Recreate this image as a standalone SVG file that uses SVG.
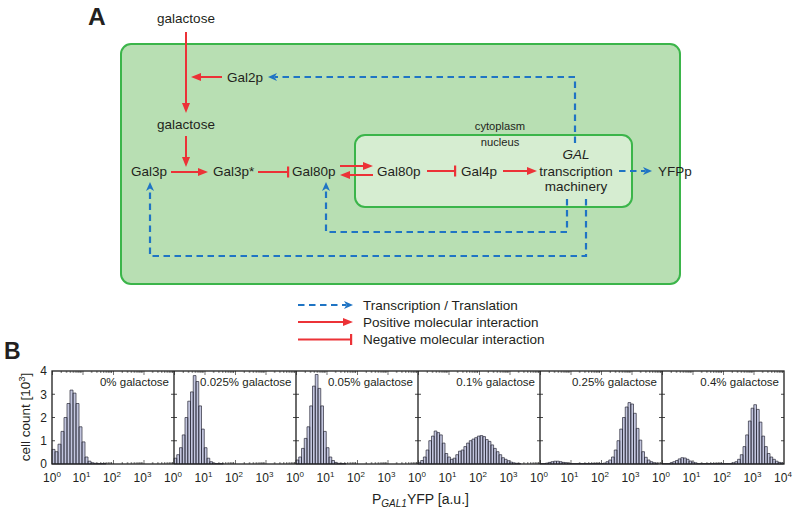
<svg xmlns="http://www.w3.org/2000/svg" width="800" height="511" viewBox="0 0 800 511">
<style>
text{font-family:"Liberation Sans",Arial,sans-serif;fill:#231f20}
.n{font-size:13.5px}
.s{font-size:11.2px}
.lg{font-size:13.5px}
.tk{font-size:12px}
.pl{font-size:11.5px;text-anchor:end}
.red{stroke:#ec3237;stroke-width:2;fill:none}
.blue{stroke:#1f74c4;stroke-width:2.2;fill:none;stroke-dasharray:6.5 4.5}
.bar{fill:#c3c6df;stroke:#2a2a38;stroke-width:0.7}
.ax{fill:none;stroke:#1e1e1e;stroke-width:1.3}
.tick{fill:none;stroke:#1e1e1e;stroke-width:0.8}
</style>
<defs>
<marker id="arrR" markerUnits="userSpaceOnUse" markerWidth="12" markerHeight="10" refX="1" refY="4" orient="auto" overflow="visible"><path d="M0,0 L10,4 L0,8 z" fill="#ec3237"/></marker>
<marker id="barR" markerUnits="userSpaceOnUse" markerWidth="4" markerHeight="12" refX="1" refY="5.5" orient="auto" overflow="visible"><rect x="0" y="0" width="2.2" height="11" fill="#ec3237"/></marker>
<marker id="arrB" markerUnits="userSpaceOnUse" markerWidth="12" markerHeight="10" refX="2" refY="4" orient="auto" overflow="visible"><path d="M0,0 L9,4 L0,8 L2.5,4 z" fill="#1f74c4"/></marker>
<pattern id="tkT" patternUnits="userSpaceOnUse" x="52" y="371" width="30.5" height="6"><path d="M0.4 0V4M9.18 0V2M14.55 0V2M18.36 0V2M21.32 0V2M23.73 0V2M25.77 0V2M27.54 0V2M29.1 0V2" stroke="#1e1e1e" stroke-width="0.7"/></pattern>
<pattern id="tkB" patternUnits="userSpaceOnUse" x="52" y="458" width="30.5" height="6"><path d="M0.4 6V2M9.18 6V4M14.55 6V4M18.36 6V4M21.32 6V4M23.73 6V4M25.77 6V4M27.54 6V4M29.1 6V4" stroke="#1e1e1e" stroke-width="0.7"/></pattern>
</defs>
<rect width="800" height="511" fill="#ffffff"/>

<g id="panelA">
<text x="88" y="25" font-size="24.5" font-weight="bold">A</text>
<g id="cell"><rect x="121" y="44" width="559" height="240" rx="10" fill="#b8dfb3" stroke="#3bb54a" stroke-width="2"/></g>
<g id="nucleus"><rect x="355" y="135" width="277" height="72" rx="10" fill="#d6edd1" stroke="#3bb54a" stroke-width="2"/></g>
<g id="lbl-cytoplasm"><text class="s" x="500" y="129.5" text-anchor="middle">cytoplasm</text></g>
<g id="lbl-nucleus"><text class="s" x="500" y="146" text-anchor="middle">nucleus</text></g>
<g id="galactose-out"><text class="n" x="186" y="23" text-anchor="middle">galactose</text></g>
<g id="gal2p"><text class="n" x="227" y="81.5">Gal2p</text></g>
<g id="galactose-in"><text class="n" x="186" y="128.5" text-anchor="middle">galactose</text></g>
<g id="gal3p"><text class="n" x="131" y="176">Gal3p</text></g>
<g id="gal3p-star"><text class="n" x="213" y="176">Gal3p*</text></g>
<g id="gal80p-cyt"><text class="n" x="292" y="176">Gal80p</text></g>
<g id="gal80p-nuc"><text class="n" x="377" y="176">Gal80p</text></g>
<g id="gal4p"><text class="n" x="461" y="176">Gal4p</text></g>
<g id="gal-machinery"><text class="n" x="576" y="159" text-anchor="middle" font-style="italic">GAL</text><text class="n" x="576" y="175.5" text-anchor="middle">transcription</text><text class="n" x="576" y="191" text-anchor="middle">machinery</text></g>
<g id="yfpp"><text class="n" x="658" y="176">YFPp</text></g>

<g id="connectors">
<path class="red" d="M186 32V104" marker-end="url(#arrR)"/>
<path class="red" d="M222 77H200" marker-end="url(#arrR)"/>
<path class="red" d="M186 136V158" marker-end="url(#arrR)"/>
<path class="red" d="M171 172H199" marker-end="url(#arrR)"/>
<path class="red" d="M258 172H288" marker-end="url(#barR)"/>
<path class="red" d="M340 166H364" marker-end="url(#arrR)"/>
<path class="red" d="M373 175H349" marker-end="url(#arrR)"/>
<path class="red" d="M427 171H455" marker-end="url(#barR)"/>
<path class="red" d="M503 171H528" marker-end="url(#arrR)"/>
<path class="blue" d="M575 143V77H275" marker-end="url(#arrB)"/>
<path class="blue" d="M619 171H645" marker-end="url(#arrB)"/>
<path class="blue" d="M567 199V232H326V189" marker-end="url(#arrB)"/>
<path class="blue" d="M586 199V256H150V189" marker-end="url(#arrB)"/>
</g>

<g id="legend">
<path class="blue" d="M298 305H346" marker-end="url(#arrB)"/>
<path class="red" d="M298 322H344" marker-end="url(#arrR)"/>
<path class="red" d="M298 339.5H351" marker-end="url(#barR)"/>
<text class="lg" x="363" y="309.5">Transcription / Translation</text>
<text class="lg" x="363" y="326.5">Positive molecular interaction</text>
<text class="lg" x="363" y="343.5">Negative molecular interaction</text>
</g>
</g>

<g id="panelB">
<text x="4" y="358.5" font-size="23" font-weight="bold">B</text>
<rect x="52" y="458" width="732" height="6" fill="url(#tkB)"/>
<g id="histograms">
<path class="bar" d="M52 464v-14.6h3v14.6v-12.3h3v12.3v-19.8h3v19.8v-32.6h3v32.6v-46.5h3v46.5v-60.5h3v60.5v-73.9h3v73.9v-70.9h3v70.9v-60.5h3v60.5v-37.2h3v37.2v-22.1h3v22.1v-7h3v7v-2.8h3v2.8v-1.2h3v1.2v-0.7h3v0.7v-0.5h9v0.5Z"/>
<path class="bar" d="M174 464v-5.8h2.75v5.8v-9.3h2.75v9.3v-16.3h2.75v16.3v-29.1h2.75v29.1v-46.5h2.75v46.5v-62.8h2.75v62.8v-72.1h2.75v72.1v-88.4h2.75v88.4v-82.5h2.75v82.5v-58.1h2.75v58.1v-34.9h2.75v34.9v-16.3h2.75v16.3v-5.8h2.75v5.8v-2.3h2.75v2.3v-0.9h2.75v0.9v-0.5h8v0.5Z"/>
<path class="bar" d="M296 464v-4h2.75v4v-7h2.75v7v-15.6h2.75v15.6v-25.6h2.75v25.6v-37.2h2.75v37.2v-58.1h2.75v58.1v-77.9h2.75v77.9v-89.5h2.75v89.5v-75.6h2.75v75.6v-58.1h2.75v58.1v-32.6h2.75v32.6v-16.3h2.75v16.3v-7h2.75v7v-3.5h2.75v3.5v-1.6h2.75v1.6v-0.7h2.75v0.7v-0.5h6v0.5Z"/>
<path class="bar" d="M418 464v-1.6h2.7v1.6v-3.5h2.7v3.5v-7h2.7v7v-14h2.7v14v-23.3h2.7v23.3v-27.9h2.7v27.9v-33h2.7v33v-31.4h2.7v31.4v-29.1h2.7v29.1v-20.9h2.7v20.9v-10.5h2.7v10.5v-7h2.7v7v-4.7h2.7v4.7v-5.8h2.7v5.8v-9.3h2.7v9.3v-12.8h2.7v12.8v-14h2.7v14v-17.4h2.7v17.4v-20.9h2.7v20.9v-23.3h2.7v23.3v-24.9h2.7v24.9v-26.3h2.7v26.3v-27.9h2.7v27.9v-28.4h2.7v28.4v-27.4h2.7v27.4v-24.4h2.7v24.4v-22.6h2.7v22.6v-19.1h2.7v19.1v-15.6h2.7v15.6v-12.3h2.7v12.3v-9.3h2.7v9.3v-6.3h2.7v6.3v-4.7h2.7v4.7v-3.3h2.7v3.3v-1.9h2.7v1.9v-1.2h2.7v1.2v-0.7h2.7v0.7v-0.5h2.7v0.5Z"/>
<path class="bar" d="M540 464v-0.5h5.5v0.5v-0.9h2.75v0.9v-1.6h2.75v1.6v-2.3h2.75v2.3v-2.8h2.75v2.8v-2.8h2.75v2.8v-2.3h2.75v2.3v-1.6h2.75v1.6v-1.2h2.75v1.2v-0.7h2.75v0.7v-0.5h33v0.5v-0.9h2.75v0.9v-2.3h2.75v2.3v-4h2.75v4v-7h2.75v7v-14h2.75v14v-23.3h2.75v23.3v-34.9h2.75v34.9v-46.5h2.75v46.5v-57h2.75v57v-61.4h2.75v61.4v-60h2.75v60v-50.7h2.75v50.7v-35.6h2.75v35.6v-23.9h2.75v23.9v-12.3h2.75v12.3v-6.7h2.75v6.7v-4h2.75v4v-2.3h2.75v2.3v-1.2h2.75v1.2v-0.7h2.75v0.7Z"/>
<path class="bar" d="M662 464v-0.5h8.1v0.5v-1.2h2.7v1.2v-2.3h2.7v2.3v-3.5h2.7v3.5v-5.1h2.7v5.1v-6.3h2.7v6.3v-6h2.7v6v-4.7h2.7v4.7v-3h2.7v3v-1.9h2.7v1.9v-1.2h2.7v1.2v-0.5h35.1v0.5v-1.2h2.7v1.2v-2.3h2.7v2.3v-4.7h2.7v4.7v-9.3h2.7v9.3v-17.4h2.7v17.4v-29.1h2.7v29.1v-43h2.7v43v-55.8h2.7v55.8v-59.3h2.7v59.3v-54.6h2.7v54.6v-41.9h2.7v41.9v-27.9h2.7v27.9v-17.4h2.7v17.4v-10.5h2.7v10.5v-7h2.7v7v-4.7h2.7v4.7v-2.8h2.7v2.8v-1.6h2.7v1.6v-0.9h2.7v0.9Z"/>
</g>
<g id="axes">
<rect x="52" y="371" width="732" height="6" fill="url(#tkT)"/>
<rect class="ax" x="52" y="371" width="732" height="93"/>
<path class="ax" d="M174 371V464M296 371V464M418 371V464M540 371V464M662 371V464"/>
<path class="tick" d="M52 440.75h3M171 440.75h6M293 440.75h6M415 440.75h6M537 440.75h6M659 440.75h6M781 440.75h3M52 417.5h3M171 417.5h6M293 417.5h6M415 417.5h6M537 417.5h6M659 417.5h6M781 417.5h3M52 394.25h3M171 394.25h6M293 394.25h6M415 394.25h6M537 394.25h6M659 394.25h6M781 394.25h3"/>
</g>
<g id="panel-labels">
<text class="pl" x="169" y="386">0% galactose</text>
<text class="pl" x="291.5" y="386">0.025% galactose</text>
<text class="pl" x="413" y="386">0.05% galactose</text>
<text class="pl" x="535" y="386">0.1% galactose</text>
<text class="pl" x="657" y="386">0.25% galactose</text>
<text class="pl" x="779" y="386">0.4% galactose</text>
</g>
<g id="y-ticklabels" class="tk" text-anchor="end">
<text x="47" y="467.6">0</text>
<text x="47" y="445">1</text>
<text x="47" y="421.8">2</text>
<text x="47" y="398.5">3</text>
<text x="47" y="375.3">4</text>
</g>
<g id="x-ticklabels" class="tk" text-anchor="middle">
<text x="52" y="481.5">10<tspan font-size="8" dy="-5">0</tspan></text>
<text x="81.5" y="481.5">10<tspan font-size="8" dy="-5">1</tspan></text>
<text x="112" y="481.5">10<tspan font-size="8" dy="-5">2</tspan></text>
<text x="142.5" y="481.5">10<tspan font-size="8" dy="-5">3</tspan></text>
<text x="173" y="481.5">10<tspan font-size="8" dy="-5">0</tspan></text>
<text x="203.5" y="481.5">10<tspan font-size="8" dy="-5">1</tspan></text>
<text x="234" y="481.5">10<tspan font-size="8" dy="-5">2</tspan></text>
<text x="264.5" y="481.5">10<tspan font-size="8" dy="-5">3</tspan></text>
<text x="295" y="481.5">10<tspan font-size="8" dy="-5">0</tspan></text>
<text x="325.5" y="481.5">10<tspan font-size="8" dy="-5">1</tspan></text>
<text x="356" y="481.5">10<tspan font-size="8" dy="-5">2</tspan></text>
<text x="386.5" y="481.5">10<tspan font-size="8" dy="-5">3</tspan></text>
<text x="417" y="481.5">10<tspan font-size="8" dy="-5">0</tspan></text>
<text x="447.5" y="481.5">10<tspan font-size="8" dy="-5">1</tspan></text>
<text x="478" y="481.5">10<tspan font-size="8" dy="-5">2</tspan></text>
<text x="508.5" y="481.5">10<tspan font-size="8" dy="-5">3</tspan></text>
<text x="539" y="481.5">10<tspan font-size="8" dy="-5">0</tspan></text>
<text x="569.5" y="481.5">10<tspan font-size="8" dy="-5">1</tspan></text>
<text x="600" y="481.5">10<tspan font-size="8" dy="-5">2</tspan></text>
<text x="630.5" y="481.5">10<tspan font-size="8" dy="-5">3</tspan></text>
<text x="661" y="481.5">10<tspan font-size="8" dy="-5">0</tspan></text>
<text x="691.5" y="481.5">10<tspan font-size="8" dy="-5">1</tspan></text>
<text x="722" y="481.5">10<tspan font-size="8" dy="-5">2</tspan></text>
<text x="752.5" y="481.5">10<tspan font-size="8" dy="-5">3</tspan></text>
<text x="783" y="481.5">10<tspan font-size="8" dy="-5">4</tspan></text>
</g>
<g id="axis-titles">
<text transform="translate(30,417) rotate(-90)" font-size="13.5" text-anchor="middle">cell count [10<tspan font-size="9.5" dy="-5">3</tspan><tspan dy="5">]</tspan></text>
<text x="372" y="504" font-size="14">P<tspan font-size="10" font-style="italic" dy="3">GAL1</tspan><tspan dy="-3">YFP [a.u.]</tspan></text>
</g>
</g>
</svg>
